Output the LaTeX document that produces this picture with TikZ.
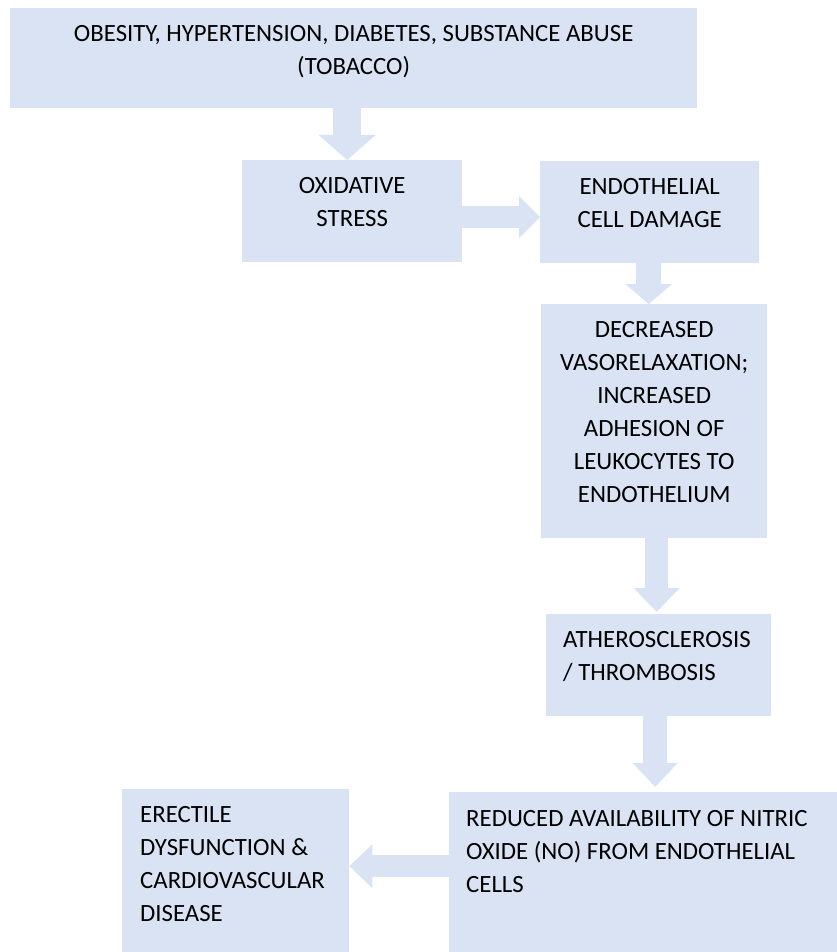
\documentclass[tikz,border=0pt]{standalone}
\usepackage{fontspec}
\setmainfont{Carlito}
\usetikzlibrary{arrows.meta}
\definecolor{boxblue}{HTML}{DAE3F3}
\tikzset{
  box/.style={fill=boxblue, draw=none, inner sep=0pt, anchor=north west},
  label text/.style={inner sep=0pt, font=\fontsize{24.8}{33}\selectfont, text=black},
  ctext/.style={label text, align=center, anchor=north},
  ltext/.style={label text, align=left, anchor=north west},
  blockarrow/.style n args={3}{draw=boxblue, line width=#1, line cap=butt,
    -{Triangle[width=#2, length=#3, line width=0pt]}},
}
\begin{document}
\begin{tikzpicture}[x=1pt, y=-1pt]
\useasboundingbox (0,0) rectangle (837,952);

% boxes
\node[box, minimum width=687pt, minimum height=100pt] (b1) at (10,8) {};
\node[box, minimum width=220pt, minimum height=102pt] (b2) at (242,160) {};
\node[box, minimum width=219pt, minimum height=102pt] (b3) at (540,161) {};
\node[box, minimum width=226pt, minimum height=234pt] (b4) at (541,304) {};
\node[box, minimum width=225pt, minimum height=102pt] (b5) at (546,614) {};
\node[box, minimum width=388pt, minimum height=160pt] (b6) at (449,792) {};
\node[box, minimum width=227pt, minimum height=163pt] (b7) at (122,789) {};

% texts
\node[ctext] (t1) at ([yshift=-17pt]b1.north) {OBESITY, HYPERTENSION, DIABETES, SUBSTANCE ABUSE\\(TOBACCO)};
\node[ctext] (t2) at ([yshift=-17pt]b2.north) {OXIDATIVE\\STRESS};
\node[ctext] (t3) at ([yshift=-17pt]b3.north) {ENDOTHELIAL\\CELL DAMAGE};
\node[ctext] (t4) at ([yshift=-17pt]b4.north) {DECREASED\\VASORELAXATION;\\INCREASED\\ADHESION OF\\LEUKOCYTES TO\\ENDOTHELIUM};
\node[ltext] (t5) at ([xshift=17pt, yshift=-17.5pt]b5.north west) {ATHEROSCLEROSIS\\/ THROMBOSIS};
\node[ltext] (t6) at ([xshift=17pt, yshift=-18.5pt]b6.north west) {REDUCED AVAILABILITY OF NITRIC\\OXIDE (NO) FROM ENDOTHELIAL\\CELLS};
\node[ltext] (t7) at ([xshift=18pt, yshift=-17.5pt]b7.north west) {ERECTILE\\DYSFUNCTION \&\\CARDIOVASCULAR\\DISEASE};

% block arrows
\draw[blockarrow={28pt}{57pt}{25pt}] ([xshift=-5pt]b2.north |- b1.south) -- ([xshift=-5pt]b2.north);
\draw[blockarrow={22pt}{42pt}{21pt}] ([yshift=-6pt]b2.east) -- ([yshift=-6pt]b2.east -| b3.west);
\draw[blockarrow={25pt}{47pt}{20pt}] ([xshift=-1pt]b3.south) -- ([xshift=-1pt]b3.south |- b4.north);
\draw[blockarrow={23pt}{46pt}{24pt}] ([xshift=2.5pt]b4.south) -- ([xshift=2.5pt, yshift=2pt]b4.south |- b5.north);
\draw[blockarrow={24pt}{45pt}{24pt}] ([xshift=-3.5pt]b5.south) -- ([xshift=-3.5pt, yshift=5pt]b5.south |- b6.north);
\draw[blockarrow={22pt}{44pt}{23pt}] ([yshift=6pt]b6.west) -- ([yshift=6pt]b6.west -| b7.east);
\end{tikzpicture}
\end{document}
